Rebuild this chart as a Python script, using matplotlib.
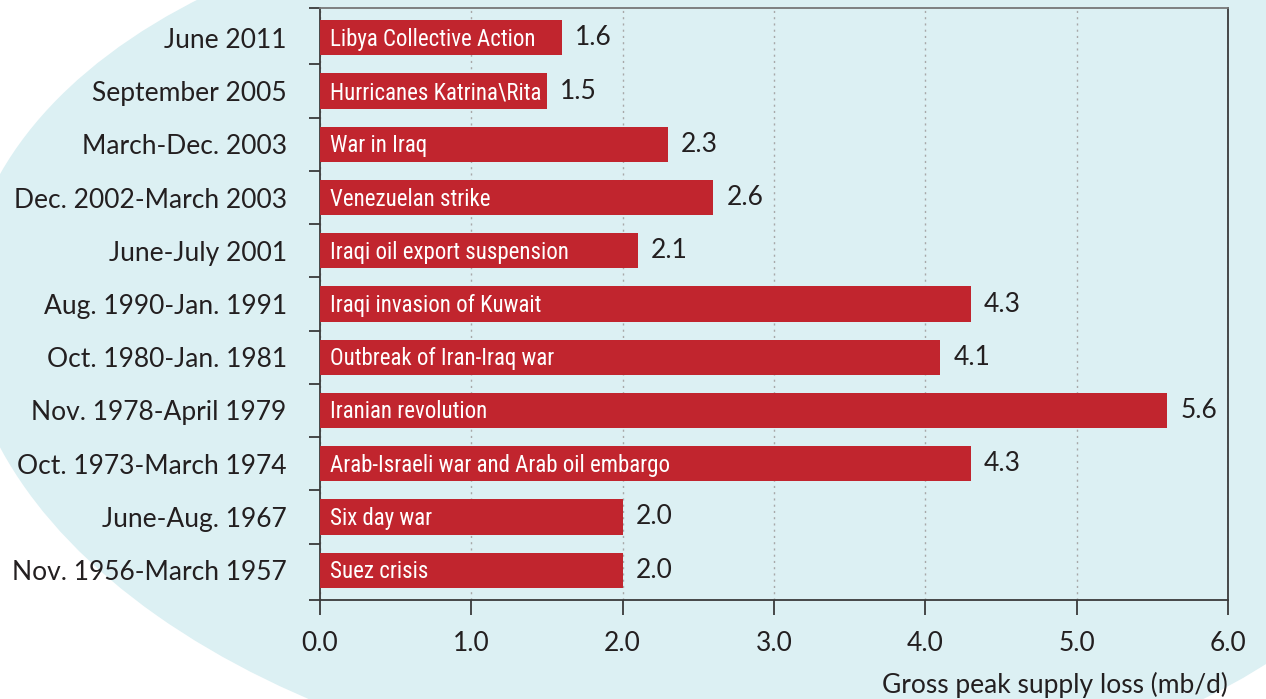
import numpy as np
import matplotlib
matplotlib.use("Agg")
import matplotlib.pyplot as plt
from matplotlib import font_manager
from matplotlib.font_manager import FontProperties
from matplotlib.patches import Ellipse, Polygon

# ---- data ----
periods = ["June 2011", "September 2005", "March-Dec. 2003", "Dec. 2002-March 2003",
           "June-July 2001", "Aug. 1990-Jan. 1991", "Oct. 1980-Jan. 1981",
           "Nov. 1978-April 1979", "Oct. 1973-March 1974", "June-Aug. 1967",
           "Nov. 1956-March 1957"]
events = ["Libya Collective Action", "Hurricanes Katrina\\Rita", "War in Iraq",
          "Venezuelan strike", "Iraqi oil export suspension", "Iraqi invasion of Kuwait",
          "Outbreak of Iran-Iraq war", "Iranian revolution",
          "Arab-Israeli war and Arab oil embargo", "Six day war", "Suez crisis"]
losses = [1.6, 1.5, 2.3, 2.6, 2.1, 4.3, 4.1, 5.6, 4.3, 2.0, 2.0]
xticks = [0, 1, 2, 3, 4, 5, 6]
xlabel = "Gross peak supply loss (mb/d)"

# ---- style ----
W, H = 1266, 699
RED = "#C1252E"
BLUE_BG = "#DCF0F3"
TXT = "#231F20"
FS = 19
FS_BAR = 16.5

entries = font_manager.fontManager.ttflist
names = {f.name for f in entries}
main_font = "Lato" if "Lato" in names else "DejaVu Sans"


def pick_narrow():
    for want in ["Roboto Condensed", "Liberation Sans Narrow", "Open Sans Condensed",
                 "Noto Sans Condensed"]:
        for f in entries:
            if f.name == want and f.weight in (400, "normal", "regular") and f.style == "normal":
                return FontProperties(fname=f.fname)
    for f in entries:
        if (("Condensed" in f.name or "Narrow" in f.name or f.stretch == "condensed")
                and f.style == "normal" and f.weight in (400, "normal", "regular")):
            return FontProperties(fname=f.fname)
    return FontProperties(family="DejaVu Sans")


narrow_fp = pick_narrow()

fig = plt.figure(figsize=(W / 100, H / 100), dpi=100)
fig.patch.set_facecolor("white")

# background: rotated ellipse fitted (Gauss-Newton) to edge points seen in pixel space,
# plus a filler for the top-right corner
bg = fig.add_axes([0, 0, 1, 1], zorder=0)
edge = np.array([[200, 0], [0, 167], [0, 450], [67, 527], [120, 587], [200, 652],
                 [313, 699], [1197, 699], [1266, 667]], dtype=float)


def resid(p):
    cx, cy, a, b, th = p
    c, s = np.cos(th), np.sin(th)
    dx, dy = edge[:, 0] - cx, edge[:, 1] - cy
    u = (dx * c - dy * s) / a
    v = (dx * s + dy * c) / b
    return np.sqrt(u**2 + v**2) - 1


p = np.array([720.0, 300.0, 800.0, 450.0, np.deg2rad(15)])
for _ in range(300):
    r = resid(p)
    J = np.empty((len(r), 5))
    for k in range(5):
        dp = np.zeros(5)
        dp[k] = 1e-4 * max(1.0, abs(p[k]))
        J[:, k] = (resid(p + dp) - r) / dp[k]
    JTJ = J.T @ J
    step = np.linalg.lstsq(JTJ + 1e-3 * np.diag(np.diag(JTJ)), -J.T @ r, rcond=None)[0]
    p = p + step
cx, cy, a, b, th = p
bg.add_patch(Ellipse((cx, cy), 2 * a, 2 * b, angle=-np.rad2deg(th),
                     facecolor=BLUE_BG, edgecolor="none"))
bg.add_patch(Polygon([[1080, -10], [1300, -10], [1300, 420]], closed=True,
                     facecolor=BLUE_BG, edgecolor="none"))
bg.set_xlim(0, W)
bg.set_ylim(H, 0)
bg.axis("off")

# main axes
ax = fig.add_axes([320 / W, 1 - 600 / H, (1228 - 320) / W, (600 - 8) / H], zorder=1)
ax.patch.set_alpha(0)
n = len(periods)
ypos = np.arange(n)[::-1]
ax.barh(ypos, losses, height=0.66, color=RED, zorder=3)
ylo, yhi = -0.56, n - 1 + 0.56
ax.set_ylim(ylo, yhi)
ax.set_xlim(xticks[0], xticks[-1])

for y, v, ev in zip(ypos, losses, events):
    ax.text(0.066, y - 0.15, ev, color="white", fontproperties=narrow_fp,
            fontsize=FS_BAR, va="baseline", ha="left", zorder=4)
    ax.text(v + 0.085, y, f"{v:.1f}", color=TXT, fontsize=FS, family=main_font,
            va="center", ha="left", zorder=4)

# y: ticks between categories, labels at centers
ax.set_yticks([ylo] + [i + 0.5 for i in range(n - 1)] + [yhi])
ax.set_yticklabels([])
ax.tick_params(axis="y", length=8, width=1.3, color="#3a3a3a", direction="out")
ax.set_yticks(ypos, labels=periods, minor=True)
ax.tick_params(axis="y", which="minor", length=0, pad=24, labelsize=FS,
               labelcolor=TXT)
for lab in ax.get_yticklabels(minor=True):
    lab.set_family(main_font)

ax.set_xticks(xticks, labels=[f"{t:.1f}" for t in xticks])
ax.tick_params(axis="x", length=11, width=1.3, color="#3a3a3a", direction="out",
               pad=11, labelsize=FS, labelcolor=TXT)
for lab in ax.get_xticklabels():
    lab.set_family(main_font)

ax.grid(axis="x", linestyle=(0, (1.5, 3)), color="#A8A8A8", linewidth=1.0, zorder=1)
for s in ax.spines.values():
    s.set_color("#3a3a3a")
    s.set_linewidth(1.3)
ax.spines["top"].set_color("#777777")

fig.text(1228 / W, 1 - 685 / H, xlabel, ha="right", va="center", fontsize=FS,
         family=main_font, color=TXT)

fig.savefig("out.png", dpi=100, facecolor="white")
